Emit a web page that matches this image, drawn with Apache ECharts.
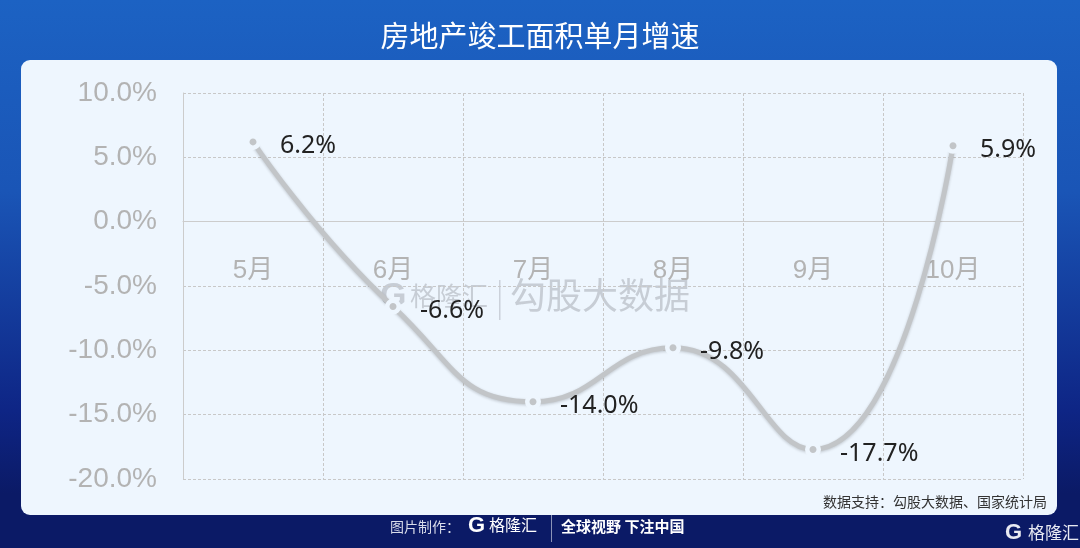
<!DOCTYPE html>
<html>
<head>
<meta charset="utf-8">
<script src="https://cdn.jsdelivr.net/npm/echarts@6/dist/echarts.min.js"></script>
<style>html,body{margin:0;padding:0;}#c{width:1080px;height:548px;}</style>
</head>
<body>
<div id="c"></div>
<script>
const titleText = '房地产竣工面积单月增速';
const categories = ['5月', '6月', '7月', '8月', '9月', '10月'];
const values = [6.2, -6.6, -14.0, -9.8, -17.7, 5.9];
const yTicks = { min: -20, max: 10, interval: 5 };
const sourceText = '数据支持：勾股大数据、国家统计局';

const chart = echarts.init(document.getElementById('c'));
const cjk = '"Noto Sans CJK SC", "Noto Sans", sans-serif';
const gridTop = 93, gridBottom = 69, chartH = 548;
const plotH = chartH - gridTop - gridBottom;
const zeroOffset = -plotH * (0 - yTicks.min) / (yTicks.max - yTicks.min);
chart.setOption({
  backgroundColor: {
    type: 'linear', x: 0, y: 0, x2: 0, y2: 1,
    colorStops: [
      { offset: 0, color: '#1c62c3' },
      { offset: 0.35, color: '#1a55b6' },
      { offset: 0.75, color: '#0e2585' },
      { offset: 0.9, color: '#0b1a66' },
      { offset: 1, color: '#0b1a66' }
    ]
  },
  title: {
    text: titleText, left: 'center', top: 16,
    textStyle: { color: '#ffffff', fontSize: 29, fontWeight: 'normal', fontFamily: cjk }
  },
  graphic: [
    { type: 'rect', z: -10, shape: { x: 21, y: 60, width: 1036, height: 455, r: 9 }, style: { fill: '#eef6fe' } },
    { type: 'group', z: 1, children: [
      { type: 'text', x: 380, y: 280, style: { text: 'G', fontSize: 34, fontWeight: 'bold', fill: 'rgba(150,155,165,0.45)', fontFamily: 'Liberation Sans' } },
      { type: 'text', x: 410, y: 283, style: { text: '格隆汇', fontSize: 26, fill: 'rgba(150,155,165,0.45)', fontFamily: cjk } },
      { type: 'rect', shape: { x: 499, y: 280, width: 1.5, height: 40 }, style: { fill: 'rgba(150,155,165,0.4)' } },
      { type: 'text', x: 510, y: 277, style: { text: '勾股大数据', fontSize: 36, fill: 'rgba(150,155,165,0.45)', fontFamily: cjk } }
    ]},
    { type: 'text', right: 33, top: 495, style: { text: sourceText, fontSize: 14, fill: '#333333', fontFamily: cjk } },
    { type: 'text', x: 390, y: 520, style: { text: '图片制作：', fontSize: 14, fill: '#d8dcea', fontFamily: cjk } },
    { type: 'text', x: 468, y: 515, style: { text: 'G', fontSize: 22, fontWeight: 'bold', fill: '#ffffff', fontFamily: 'Liberation Sans' } },
    { type: 'text', x: 489, y: 517, style: { text: '格隆汇', fontSize: 16, fill: '#ffffff', fontFamily: cjk } },
    { type: 'rect', shape: { x: 551, y: 515, width: 1, height: 27 }, style: { fill: '#8b93b8' } },
    { type: 'text', x: 561, y: 519, style: { text: '全球视野 下注中国', fontSize: 15, fontWeight: 'bold', fill: '#ffffff', fontFamily: cjk } },
    { type: 'text', x: 1005, y: 522, style: { text: 'G', fontSize: 22, fontWeight: 'bold', fill: '#e8eaf2', fontFamily: 'Liberation Sans' } },
    { type: 'text', x: 1028, y: 524, style: { text: '格隆汇', fontSize: 17, fill: '#e8eaf2', fontFamily: cjk } }
  ],
  grid: { left: 183, right: 57, top: gridTop, bottom: gridBottom },
  xAxis: {
    type: 'category', data: categories, boundaryGap: true,
    position: 'bottom', offset: zeroOffset,
    axisLine: { onZero: false, lineStyle: { color: '#cccccc', width: 1 } },
    axisTick: { show: false },
    axisLabel: { color: '#b3b3b3', fontSize: 26, margin: 36, fontFamily: '"Liberation Sans", "Noto Sans CJK SC", sans-serif' },
    splitLine: { show: true, lineStyle: { color: '#c8c8c8', type: [3, 2], width: 1 } }
  },
  yAxis: {
    type: 'value', min: yTicks.min, max: yTicks.max, interval: yTicks.interval,
    axisLine: { show: true, lineStyle: { color: '#cccccc' } },
    axisTick: { show: false },
    axisLabel: { color: '#b3b3b3', fontSize: 28, margin: 26, fontFamily: '"Liberation Sans", sans-serif',
      formatter: v => v.toFixed(1) + '%' },
    splitLine: { lineStyle: { color: '#c8c8c8', type: [3, 2], width: 1 } }
  },
  series: [{
    type: 'line', data: values, smooth: 0.5,
    symbol: 'circle', symbolSize: 11.5,
    itemStyle: { color: '#c2c5c8', borderColor: '#eef6fe', borderWidth: 4.5 },
    lineStyle: { color: '#c2c5c8', width: 5, shadowColor: 'rgba(0,0,0,0.2)', shadowBlur: 3, shadowOffsetY: 1 },
    label: {
      show: true, position: 'right', distance: 19, offset: [0, 4],
      color: '#222222', fontSize: 25, fontFamily: '"Noto Sans", sans-serif',
      formatter: p => p.value.toFixed(1) + '%'
    },
    z: 3
  }]
});
</script>
</body>
</html>
